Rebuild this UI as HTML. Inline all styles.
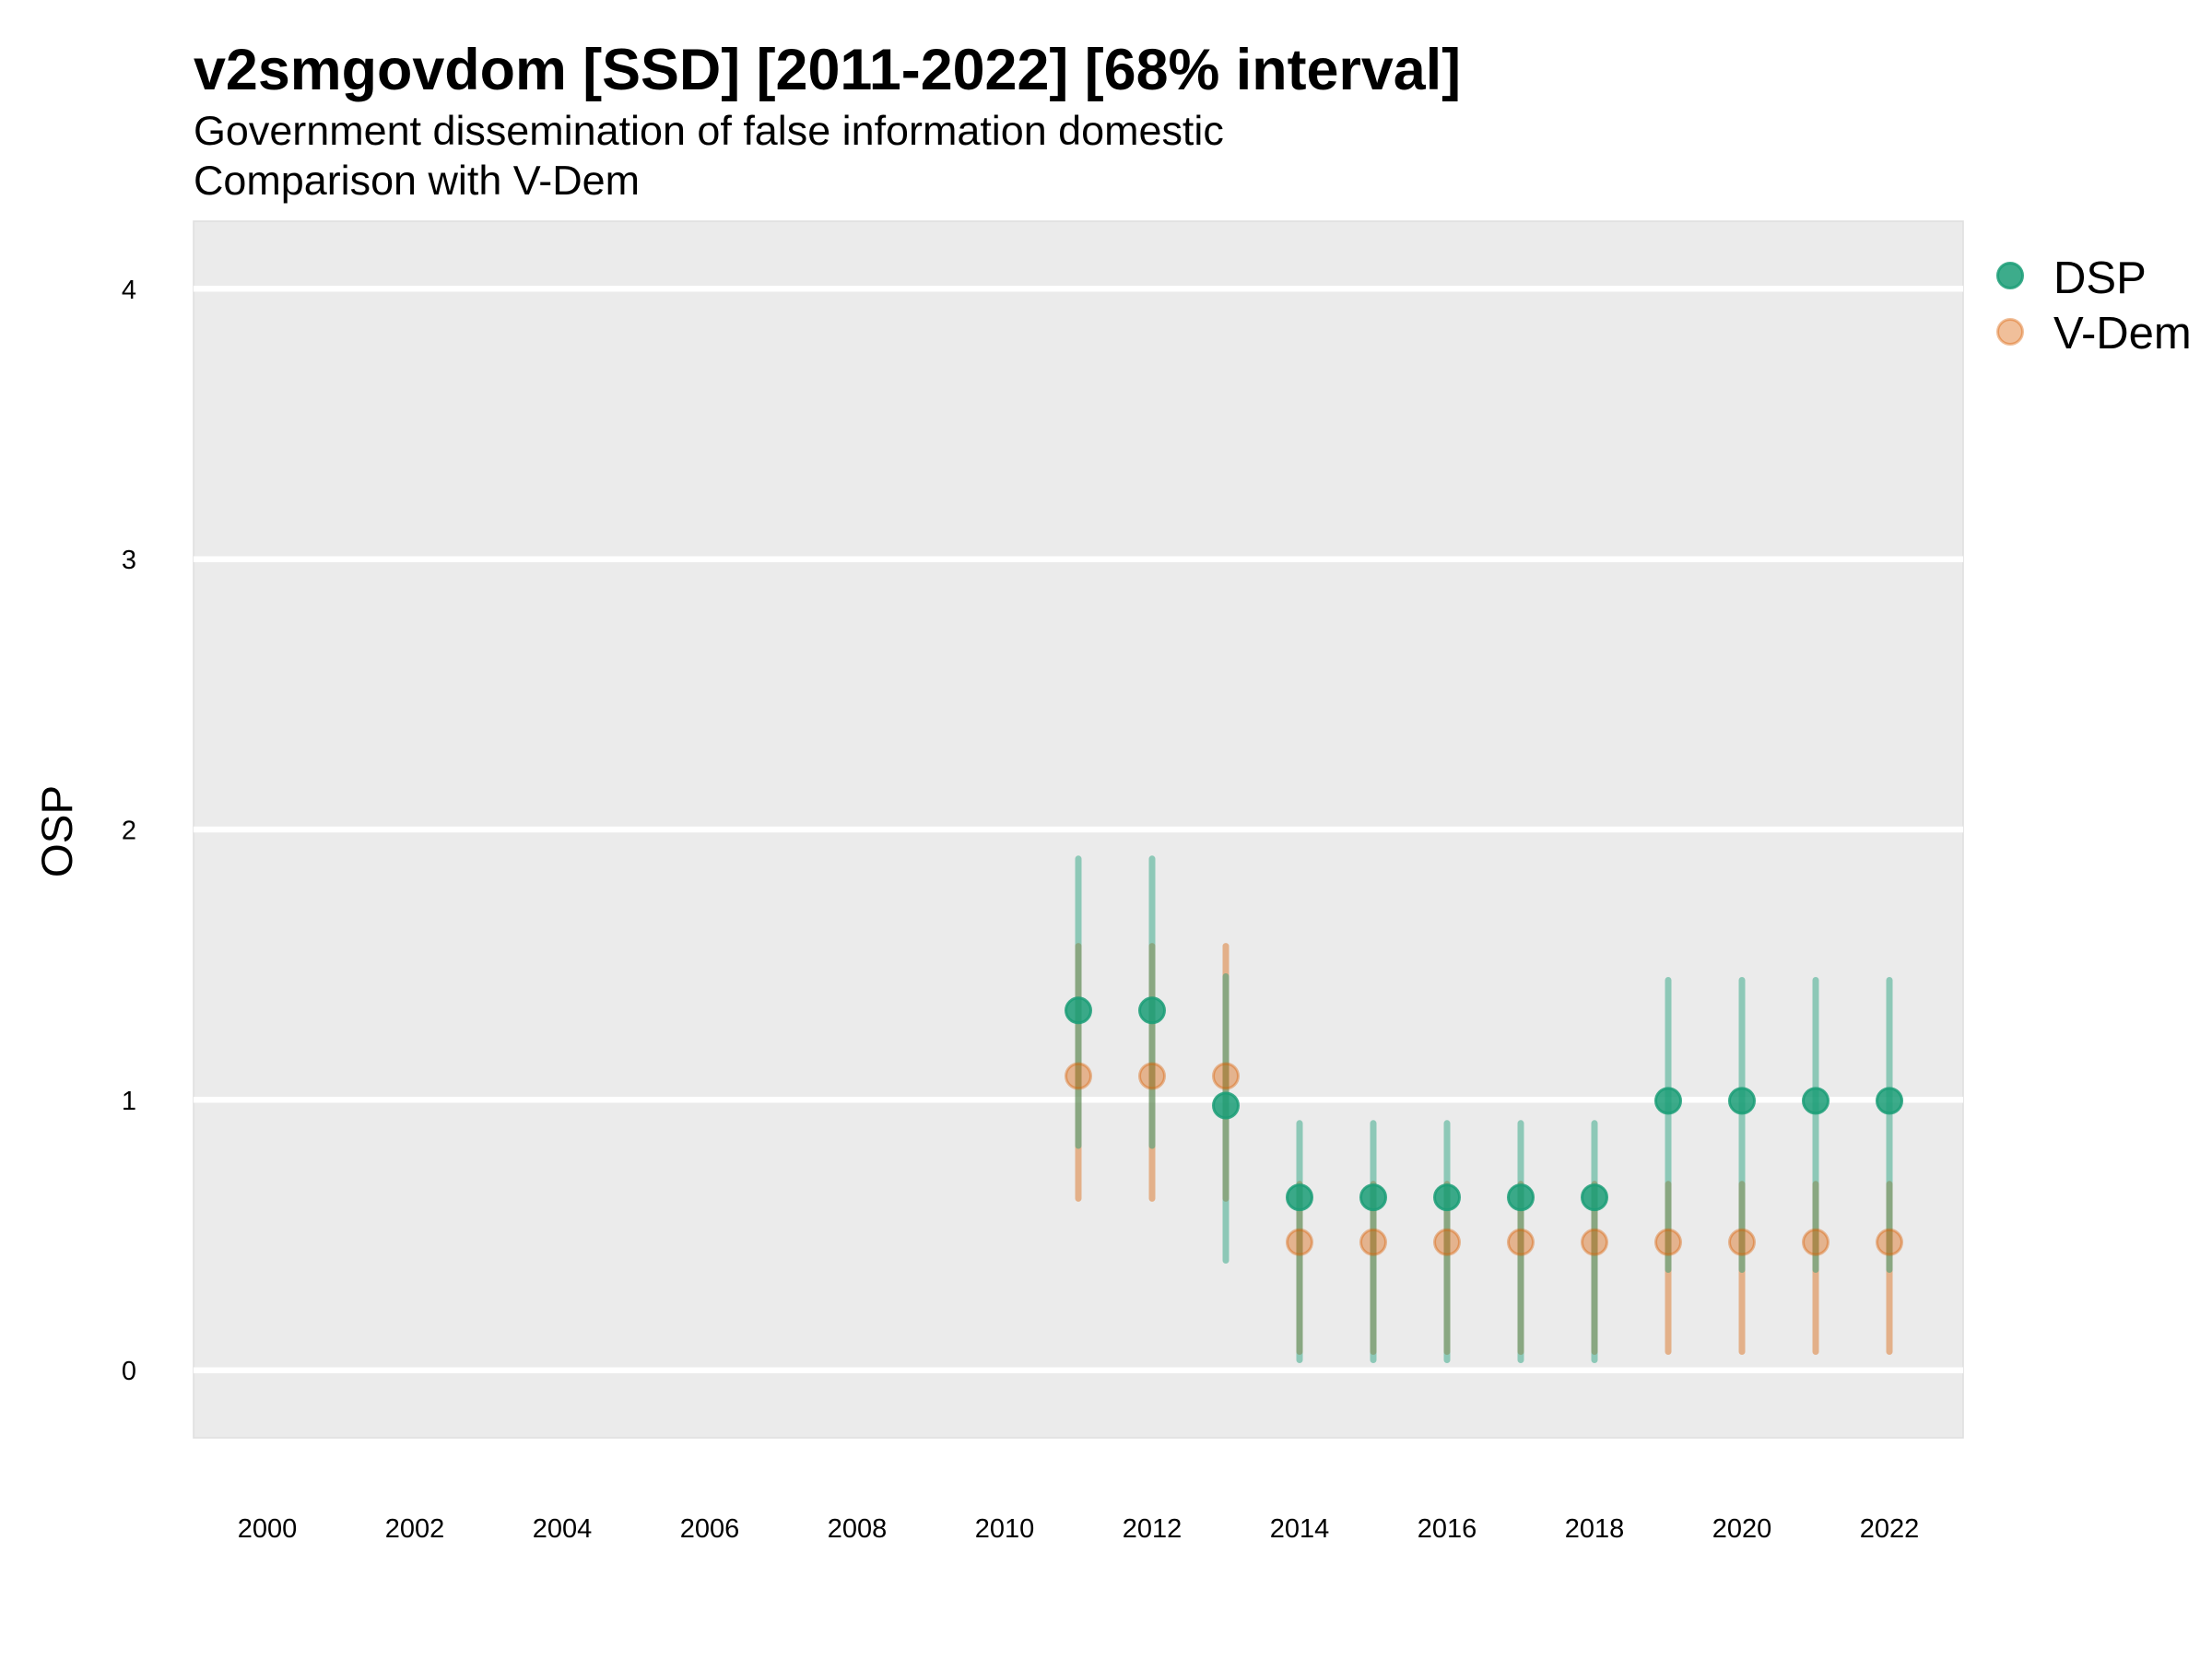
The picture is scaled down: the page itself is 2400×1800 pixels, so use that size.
<!DOCTYPE html>
<html>
<head>
<meta charset="utf-8">
<style>
  html, body { margin: 0; padding: 0; background: #ffffff; }
  svg { display: block; }
  text { font-family: "Liberation Sans", Arial, sans-serif; fill: #000; }
</style>
</head>
<body>
<svg width="2400" height="1800" viewBox="0 0 2400 1800" xmlns="http://www.w3.org/2000/svg">
  <rect x="0" y="0" width="2400" height="1800" fill="#ffffff"/>

  <!-- Title & subtitle -->
  <text x="210" y="97" font-size="62.8" font-weight="bold">v2smgovdom [SSD] [2011-2022] [68% interval]</text>
  <text x="210" y="157" font-size="44.9">Government dissemination of false information domestic</text>
  <text x="210" y="211" font-size="44.9">Comparison with V-Dem</text>

  <!-- Panel -->
  <rect x="210" y="240" width="1920" height="1320" fill="#ebebeb" stroke="#dedede" stroke-width="1.5"/>

  <!-- Gridlines -->
  <g stroke="#ffffff" stroke-width="6.5">
    <line x1="210" y1="313.3" x2="2130" y2="313.3"/>
    <line x1="210" y1="606.7" x2="2130" y2="606.7"/>
    <line x1="210" y1="900" x2="2130" y2="900"/>
    <line x1="210" y1="1193.3" x2="2130" y2="1193.3"/>
    <line x1="210" y1="1486.7" x2="2130" y2="1486.7"/>
  </g>

  <!-- Y tick labels -->
  <g font-size="29" text-anchor="end">
    <text x="148" y="324">4</text>
    <text x="148" y="617">3</text>
    <text x="148" y="910.5">2</text>
    <text x="148" y="1204">1</text>
    <text x="148" y="1497">0</text>
  </g>

  <!-- X tick labels -->
  <g font-size="29" text-anchor="middle">
    <text x="290" y="1668">2000</text>
    <text x="450" y="1668">2002</text>
    <text x="610" y="1668">2004</text>
    <text x="770" y="1668">2006</text>
    <text x="930" y="1668">2008</text>
    <text x="1090" y="1668">2010</text>
    <text x="1250" y="1668">2012</text>
    <text x="1410" y="1668">2014</text>
    <text x="1570" y="1668">2016</text>
    <text x="1730" y="1668">2018</text>
    <text x="1890" y="1668">2020</text>
    <text x="2050" y="1668">2022</text>
  </g>

  <!-- Y axis title -->
  <text x="78" y="902" font-size="47.5" text-anchor="middle" transform="rotate(-90 78 902)">OSP</text>

  <!-- V-Dem intervals -->
  <g stroke="#d95f02" stroke-opacity="0.42" stroke-width="7" stroke-linecap="round">
    <line x1="1170" y1="1026.6" x2="1170" y2="1300.4"/>
    <line x1="1250" y1="1026.6" x2="1250" y2="1300.4"/>
    <line x1="1330" y1="1026.6" x2="1330" y2="1300.4"/>
    <line x1="1410" y1="1284.8" x2="1410" y2="1466.5"/>
    <line x1="1490" y1="1284.8" x2="1490" y2="1466.5"/>
    <line x1="1570" y1="1284.8" x2="1570" y2="1466.5"/>
    <line x1="1650" y1="1284.8" x2="1650" y2="1466.5"/>
    <line x1="1730" y1="1284.8" x2="1730" y2="1466.5"/>
    <line x1="1810" y1="1284.8" x2="1810" y2="1466.5"/>
    <line x1="1890" y1="1284.8" x2="1890" y2="1466.5"/>
    <line x1="1970" y1="1284.8" x2="1970" y2="1466.5"/>
    <line x1="2050" y1="1284.8" x2="2050" y2="1466.5"/>
  </g>

  <!-- DSP intervals -->
  <g stroke="#1b9e77" stroke-opacity="0.45" stroke-width="7" stroke-linecap="round">
    <line x1="1170" y1="931.8" x2="1170" y2="1243"/>
    <line x1="1250" y1="931.8" x2="1250" y2="1243"/>
    <line x1="1330" y1="1059.5" x2="1330" y2="1367.5"/>
    <line x1="1410" y1="1218.8" x2="1410" y2="1475.5"/>
    <line x1="1490" y1="1218.8" x2="1490" y2="1475.5"/>
    <line x1="1570" y1="1218.8" x2="1570" y2="1475.5"/>
    <line x1="1650" y1="1218.8" x2="1650" y2="1475.5"/>
    <line x1="1730" y1="1218.8" x2="1730" y2="1475.5"/>
    <line x1="1810" y1="1063.5" x2="1810" y2="1377.5"/>
    <line x1="1890" y1="1063.5" x2="1890" y2="1377.5"/>
    <line x1="1970" y1="1063.5" x2="1970" y2="1377.5"/>
    <line x1="2050" y1="1063.5" x2="2050" y2="1377.5"/>
  </g>

  <!-- V-Dem points -->
  <g fill="#d95f02" fill-opacity="0.4" stroke="#d95f02" stroke-opacity="0.4" stroke-width="3">
    <circle cx="1170" cy="1167.5" r="13.5"/>
    <circle cx="1250" cy="1167.5" r="13.5"/>
    <circle cx="1330" cy="1167.5" r="13.5"/>
    <circle cx="1410" cy="1347.8" r="13.5"/>
    <circle cx="1490" cy="1347.8" r="13.5"/>
    <circle cx="1570" cy="1347.8" r="13.5"/>
    <circle cx="1650" cy="1347.8" r="13.5"/>
    <circle cx="1730" cy="1347.8" r="13.5"/>
    <circle cx="1810" cy="1347.8" r="13.5"/>
    <circle cx="1890" cy="1347.8" r="13.5"/>
    <circle cx="1970" cy="1347.8" r="13.5"/>
    <circle cx="2050" cy="1347.8" r="13.5"/>
  </g>

  <!-- DSP points -->
  <g fill="#1b9e77" fill-opacity="0.85" stroke="#1b9e77" stroke-opacity="0.85" stroke-width="3">
    <circle cx="1170" cy="1096.3" r="13.5"/>
    <circle cx="1250" cy="1096.3" r="13.5"/>
    <circle cx="1330" cy="1199.5" r="13.5"/>
    <circle cx="1410" cy="1299.1" r="13.5"/>
    <circle cx="1490" cy="1299.1" r="13.5"/>
    <circle cx="1570" cy="1299.1" r="13.5"/>
    <circle cx="1650" cy="1299.1" r="13.5"/>
    <circle cx="1730" cy="1299.1" r="13.5"/>
    <circle cx="1810" cy="1194.4" r="13.5"/>
    <circle cx="1890" cy="1194.4" r="13.5"/>
    <circle cx="1970" cy="1194.4" r="13.5"/>
    <circle cx="2050" cy="1194.4" r="13.5"/>
  </g>

  <!-- Legend -->
  <circle cx="2181" cy="299" r="13.5" fill="#1b9e77" fill-opacity="0.85" stroke="#1b9e77" stroke-opacity="0.85" stroke-width="3"/>
  <circle cx="2181" cy="360" r="13.5" fill="#d95f02" fill-opacity="0.4" stroke="#d95f02" stroke-opacity="0.4" stroke-width="3"/>
  <text x="2228" y="318" font-size="49">DSP</text>
  <text x="2228" y="378" font-size="49">V-Dem</text>
</svg>
</body>
</html>
